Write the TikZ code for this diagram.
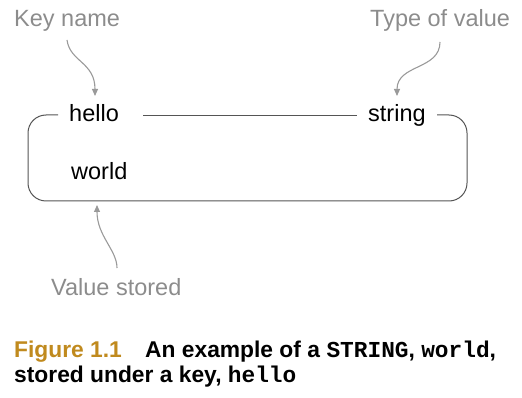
\documentclass[tikz,border=0pt]{standalone}
\usepackage{fontspec}
\setmainfont{Liberation Sans}
\setmonofont{Liberation Mono}
\usetikzlibrary{arrows.meta}
\definecolor{notegray}{HTML}{8C8C8C}
\definecolor{arrowgray}{HTML}{9A9A9A}
\definecolor{boxgray}{HTML}{555555}
\definecolor{figgold}{HTML}{C08A1E}
\begin{document}
\begin{tikzpicture}[x=1pt,y=-1pt,
  note/.style={text=notegray,font=\fontsize{23.5}{26}\selectfont,inner sep=0pt,anchor=base west},
  entry/.style={text=black,font=\fontsize{23.5}{26}\selectfont,inner sep=0pt,anchor=base west},
  pointer/.style={draw=arrowgray,line width=1.1pt,-{Triangle[length=7pt,width=6pt]}},
  frame/.style={draw=boxgray,line width=1pt},
  caption/.style={font=\bfseries\fontsize{22.8}{25}\selectfont,inner sep=0pt,anchor=base west}]
\useasboundingbox (0,0) rectangle (522,398);

% annotations
\node[note] (keyname) at (14,27) {Key name};
\node[note] (typeval) at (370,27) {Type of value};
\node[note] (valstored) at (51,295) {Value stored};

% key/value entries
\node[entry] (hello) at (69,122) {hello};
\node[entry] (string) at (368,122) {string};
\node[entry] (world) at (71,180) {world};

% joining line and the rounded frame
\draw[frame] (143,116) -- (357,116);
\draw[frame,rounded corners=18pt] (58,115) -- (28,115) -- (28,201)
  -- (467,201) -- (467,115) -- (437,115);

% callout arrows
\coordinate (keytip) at (95,96);
\coordinate (typetip) at (397,96);
\coordinate (valtip) at (97,205);
\draw[pointer] (67,40) .. controls (70,62) and (95,62) .. (keytip);
\draw[pointer] (440,42) .. controls (440,70) and (397,64) .. (typetip);
\draw[pointer] (117,268) .. controls (117,250) and (97,236) .. (valtip);

% caption
\node[caption,text=figgold] (fig) at (14,357) {Figure 1.1};
\node[caption] (cap1) at (145,357) {An example of a \texttt{STRING}, \texttt{world},};
\node[caption] (cap2) at (14,382) {stored under a key, \texttt{hello}};
\end{tikzpicture}
\end{document}
